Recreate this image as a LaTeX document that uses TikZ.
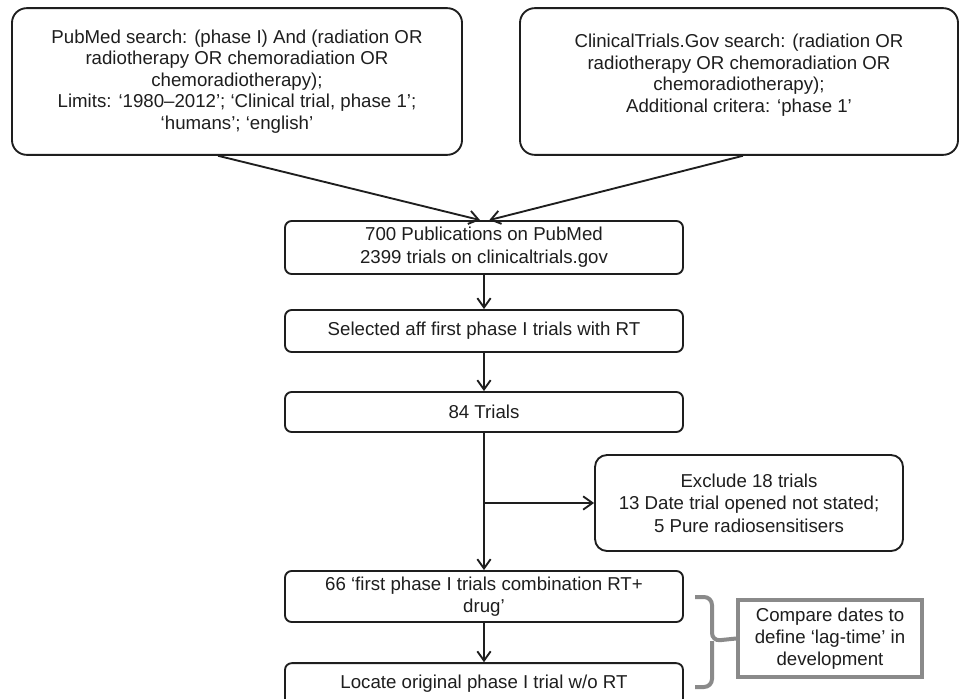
\documentclass[tikz,border=0pt]{standalone}
\usepackage{fontspec}
\setmainfont{Liberation Sans}
\usetikzlibrary{arrows.meta,calc}
\definecolor{ink}{HTML}{1E1E1E}
\definecolor{brk}{HTML}{8A8A8A}
\begin{document}
\begin{tikzpicture}[x=0.75pt,y=-0.75pt,
  font=\fontsize{14}{17}\selectfont,
  every node/.style={text=ink},
  bigbox/.style={draw=ink,line width=1.4pt,rounded corners=11pt,align=center,inner sep=0pt,font=\fontsize{14}{16.1}\selectfont},
  midbox/.style={draw=ink,line width=1.4pt,rounded corners=5pt,align=center,inner sep=0pt,minimum width=298.5pt},
  exbox/.style={draw=ink,line width=1.4pt,rounded corners=9pt,align=center,inner sep=0pt},
  graybox/.style={draw=brk,line width=3pt,align=center,inner sep=0pt,font=\fontsize{14}{16.3}\selectfont},
  conn/.style={draw=ink,line width=1.4pt,-{Straight Barb[length=7pt,width=10pt,line width=1.4pt]}},
  brace/.style={draw=brk,line width=3pt,rounded corners=6pt}]
\clip (0,0) rectangle (960,699);
\fill[white] (0,0) rectangle (960,699);

\node[bigbox,minimum width=337.5pt,minimum height=110pt] (pub) at (237,81.5)
  {PubMed search: (phase I) And (radiation OR\\ radiotherapy OR chemoradiation OR\\ chemoradiotherapy);\\ Limits: ‘1980–2012’; ‘Clinical trial, phase 1’;\\ ‘humans’; ‘english’};
\node[bigbox,minimum width=328.5pt,minimum height=110pt] (ct) at (739,81.5)
  {ClinicalTrials.Gov search: (radiation OR\\ radiotherapy OR chemoradiation OR\\ chemoradiotherapy);\\ Additional critera: ‘phase 1’\\[-4pt] \mbox{}};

\node[midbox,minimum height=39.75pt] (n700) at (484,247.5)
  {700 Publications on PubMed\\ 2399 trials on clinicaltrials.gov};
\node[midbox,minimum height=31.5pt] (sel) at (484,331)
  {Selected aff first phase I trials with RT};
\node[midbox,minimum height=30pt] (t84) at (484,412) {84 Trials};
\node[exbox,minimum width=231pt,minimum height=72pt] (excl) at (749,503)
  {Exclude 18 trials\\ 13 Date trial opened not stated;\\ 5 Pure radiosensitisers};
\node[midbox,minimum height=38.25pt] (n66) at (484,596.5)
  {66 ‘first phase I trials combination RT+\\ drug’};
\node[midbox,minimum height=32pt,text depth=4pt] (loc) at (484,684.5)
  {Locate original phase I trial w/o RT};
\node[graybox,minimum width=138pt,minimum height=57.75pt] (cmp) at (830,638.5)
  {Compare dates to\\ define ‘lag-time’ in\\ development};

\draw[conn] ([xshift=-14.25pt]pub.south) -- ([xshift=-3pt]n700.north);
\draw[conn] ([xshift=3pt]ct.south) -- ([xshift=4pt]n700.north);
\draw[conn] (n700) -- (sel);
\draw[conn] (sel) -- (t84);
\draw[conn] (t84) -- (n66);
\coordinate (br) at (t84.south |- excl.west);
\draw[conn] (br) -- (excl.west);
\draw[conn] (n66) -- (loc);

\coordinate (bt) at (695,597);
\coordinate (bb) at (695,687);
\draw[brace] (bt) -- (712,597) -- (712,641) -- (cmp.west);
\draw[brace] (bb) -- (712,687) -- (712,641);
\end{tikzpicture}
\end{document}
